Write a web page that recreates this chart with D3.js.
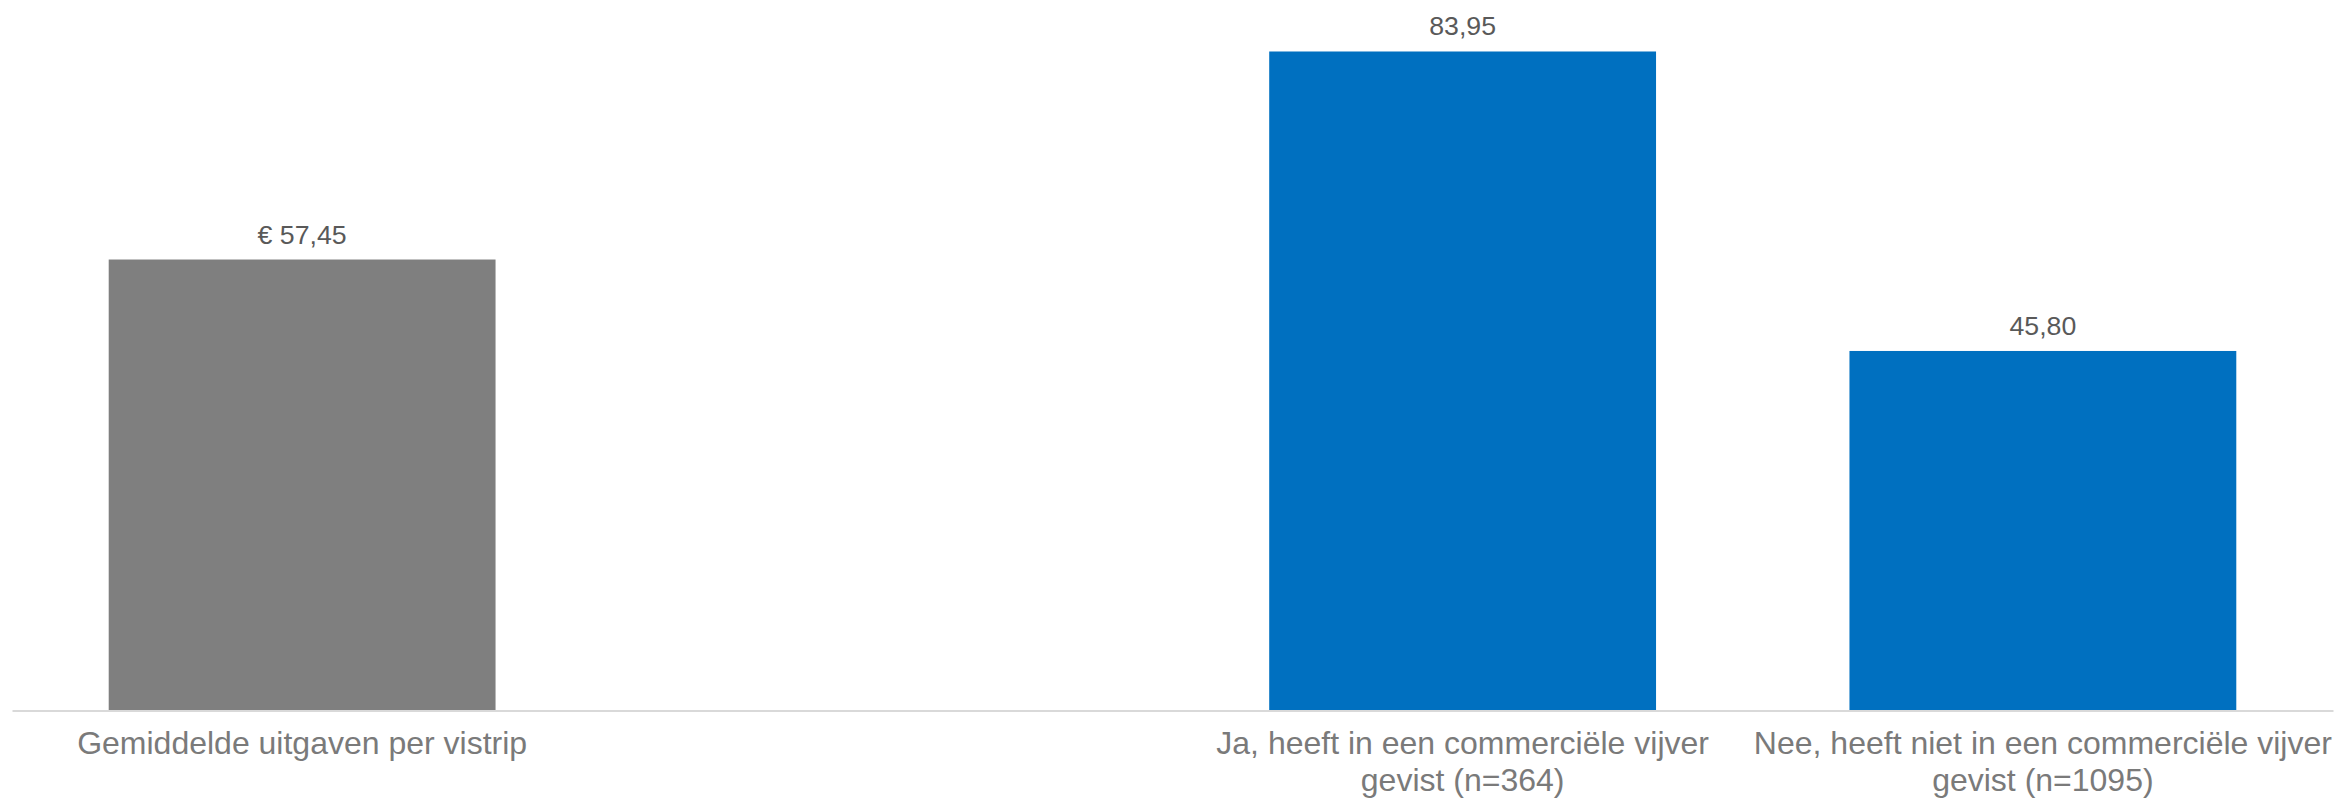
<!DOCTYPE html>
<html>
<head>
<meta charset="utf-8">
<script src="https://cdn.jsdelivr.net/npm/d3@7"></script>
<style>
  html, body { margin: 0; padding: 0; background: #ffffff; }
  svg { display: block; }
</style>
</head>
<body>
<script>
// ---- Data ----
const categories = [
  "Gemiddelde uitgaven per vistrip",
  "",
  "Ja, heeft in een commerciële vijver\ngevist (n=364)",
  "Nee, heeft niet in een commerciële vijver\ngevist (n=1095)"
];
const values = [57.45, null, 83.95, 45.80];
const valuePrefixes = ["€ ", "", "", ""];
const barColors = ["#7f7f7f", null, "#0070c0", "#0070c0"];

// ---- Layout ----
const W = 2336, H = 802;
const svg = d3.select("body").append("svg").attr("width", W).attr("height", H);

const x = d3.scaleBand()
  .domain(categories)
  .range([12, 2333])
  .paddingInner(1/3)
  .paddingOuter(1/6);

const y = d3.scaleLinear()
  .domain([0, 90])
  .range([710.5, 4]);

const nl = d3.formatLocale({decimal: ",", thousands: ".", grouping: [3], currency: ["€ ", ""]});
const fmt = nl.format(".2f");

const data = categories.map((c, i) => ({c, v: values[i], p: valuePrefixes[i], col: barColors[i]}))
  .filter(d => d.v != null);

// Bars
svg.append("g").selectAll("rect").data(data).join("rect")
  .attr("x", d => x(d.c))
  .attr("width", x.bandwidth())
  .attr("y", d => y(d.v))
  .attr("height", d => y(0) - y(d.v))
  .attr("fill", d => d.col);

// Value labels
svg.append("g").selectAll("text").data(data).join("text")
  .attr("x", d => x(d.c) + x.bandwidth() / 2)
  .attr("y", d => y(d.v) - 16)
  .attr("text-anchor", "middle")
  .attr("font-family", "Liberation Sans, Arial, sans-serif")
  .attr("font-size", "26.7px")
  .attr("fill", "#595959")
  .text(d => d.p + fmt(d.v));

// Axis
const axis = svg.append("g")
  .attr("transform", `translate(0,${y(0)})`)
  .call(d3.axisBottom(x).tickSize(0).tickSizeOuter(0).tickPadding(0));

axis.select(".domain").attr("stroke", "#d9d9d9").attr("stroke-width", 2);
axis.selectAll(".tick text")
  .attr("font-family", "Liberation Sans, Arial, sans-serif")
  .attr("font-size", "32px")
  .attr("fill", "#7a7a7a")
  .attr("dy", null)
  .attr("y", 0)
  .each(function(d) {
    const t = d3.select(this);
    t.text(null);
    d.split("\n").forEach((line, i) => {
      t.append("tspan").attr("x", 0).attr("y", 43.5 + i * 37).text(line);
    });
  });
</script>
</body>
</html>
